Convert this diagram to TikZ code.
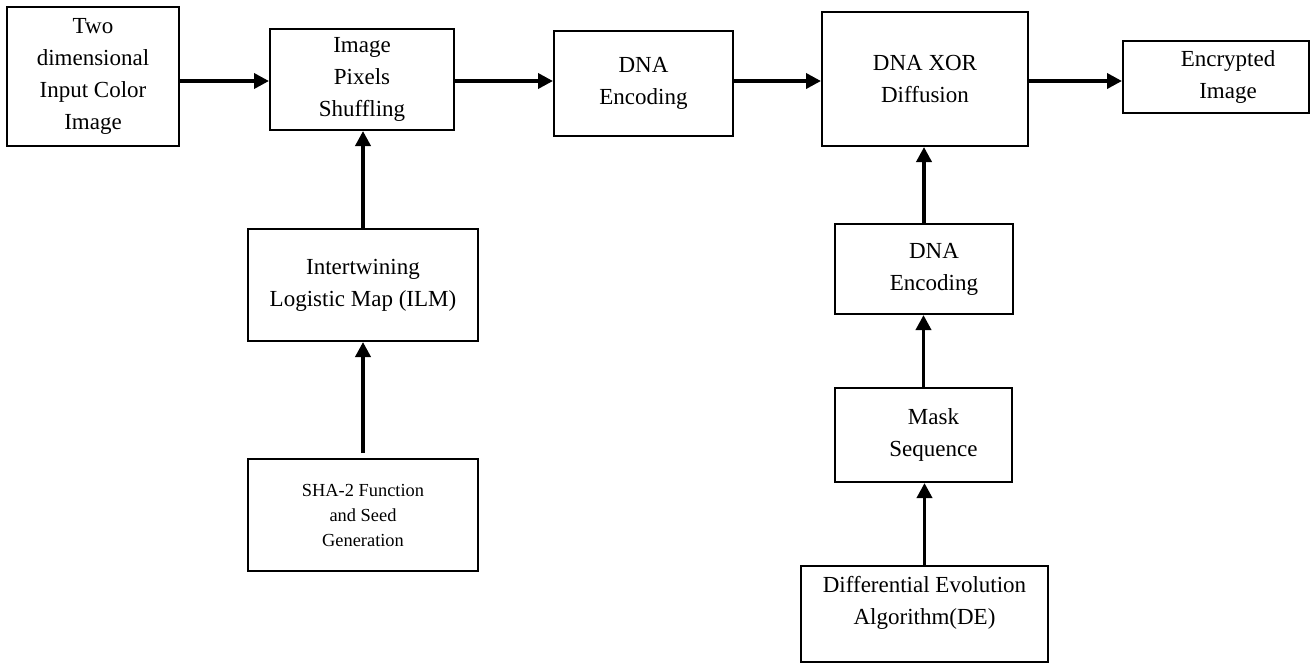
\documentclass[tikz,border=0pt]{standalone}
\usepackage{fontspec}
\setmainfont{Liberation Serif}
\usetikzlibrary{arrows.meta}
\begin{document}
\begin{tikzpicture}[x=0.5pt, y=-0.5pt,
	block/.style={draw, line width=1pt, align=center, inner sep=0pt, font=\fontsize{11.5}{16}\selectfont},
	flow/.style={line width=1.8pt, -{Triangle[length=7.5pt,width=7.5pt]}}]
	\useasboundingbox (0,0) rectangle (1310,665);
	% top row
	\node[block, minimum width=86pt, minimum height=69.5pt] (input) at (93,76.5) {Two\\dimensional\\Input Color\\Image};
	\node[block, minimum width=92pt, minimum height=50.5pt] (shuffle) at (362,79.5) {Image\\Pixels\\Shuffling};
	\node[block, minimum width=89.5pt, minimum height=52.5pt] (encode) at (643.5,83.5) {DNA\\Encoding};
	\node[block, minimum width=103pt, minimum height=67pt] (xor) at (925,79) {DNA XOR\\Diffusion};
	\node[block, minimum width=93pt, minimum height=36pt] (cipher) at (1216,77) {\hspace*{12pt}Encrypted\\\hspace*{12pt}Image};
	% key branch
	\node[block, minimum width=115pt, minimum height=56pt] (ilm) at (363,285) {Intertwining\\Logistic Map (ILM)};
	\node[block, minimum width=115pt, minimum height=56pt, font=\fontsize{9.2}{12.5}\selectfont] (sha) at (363,515) {SHA-2 Function\\and Seed\\Generation};
	% mask branch
	\node[block, minimum width=89pt, minimum height=45pt] (encodetwo) at (924,269) {\hspace*{10pt}DNA\\\hspace*{10pt}Encoding};
	\node[block, minimum width=88.5pt, minimum height=47pt] (mask) at (923.5,435) {\hspace*{10pt}Mask\\\hspace*{10pt}Sequence};
	\node[block, minimum width=123.5pt, minimum height=48pt, text depth=14pt] (de) at (924.5,614) {Differential Evolution\\Algorithm(DE)};
	\coordinate (row) at (0,81);
	\draw[flow] (input.east |- row) -- (shuffle.west |- row);
	\draw[flow] (shuffle.east |- row) -- (encode.west |- row);
	\draw[flow] (encode.east |- row) -- (xor.west |- row);
	\draw[flow] (xor.east |- row) -- (cipher.west |- row);
	\draw[flow] (ilm.north) -- (ilm.north |- shuffle.south);
	\draw[flow, shorten <=2.5pt] (sha.north) -- (ilm.south);
	\draw[flow] (encodetwo.north) -- (encodetwo.north |- xor.south);
	\draw[flow] (mask.north) -- (mask.north |- encodetwo.south);
	\draw[flow] (de.north) -- (de.north |- mask.south);
\end{tikzpicture}
\end{document}
